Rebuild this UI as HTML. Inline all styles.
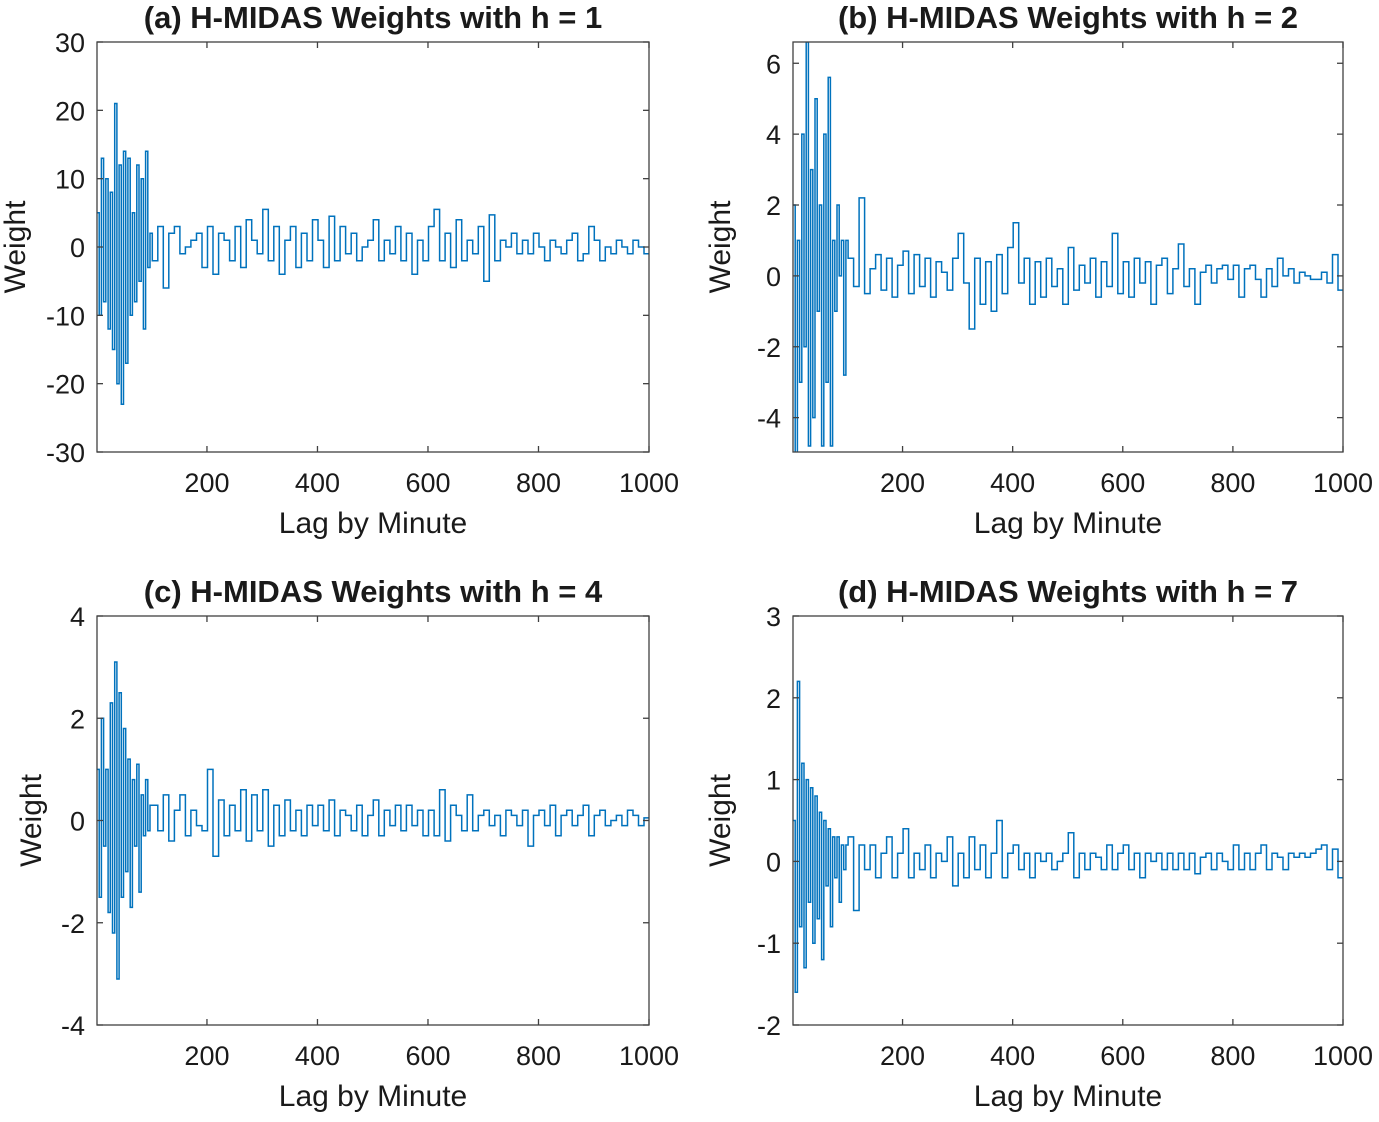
<!DOCTYPE html>
<html><head><meta charset="utf-8"><style>
html,body{margin:0;padding:0;background:#fff;}
svg text{font-family:"Liberation Sans",Arial,sans-serif;fill:#1a1a1a;}
</style></head><body>
<svg id="chart" width="1379" height="1117" viewBox="0 0 1379 1117" xmlns="http://www.w3.org/2000/svg"></svg>
<script>
// step start lags: early fine steps then coarse steps
const lagsEarly = [1,5,9,13,17,21,25,29,33,37,41,45,49,53,57,61,65,69,73,77,81,85,89,93,97];
const lagsLate = [];
for (let k = 0; k < 90; k++) lagsLate.push(101 + 10 * k);
const lags = lagsEarly.concat(lagsLate);

const weightsA = [5,-10,13,-8,10,-12,8,-15,21,-20,12,-23,14,-17,13,-10,5,-8,12,-5,10,-12,14,-3,2,
-2,3,-6,2,3,-1,0,1,2,-3,
3,-4,2,1,-2,3,-3,4,1,-1,
5.5,-2,3,-4,1,3,-3,2,-2,4,
1,-3,4.5,-2,3,-1,2,-2,0,1,
4,-2,1,-1,3,-2,2,-4,1,-2,
3,5.5,-2,2,-3,4,-2,1,-1,3,
-5,4.7,-2,1,0,2,-1,1,-1,2,
0,-2,1,0,-1,1,2,-2,-1,3,
1,-2,0,-1,1,0,-1,1,0,-1];
const weightsB = [2,-5,1,-3,4,-2,6.6,-4.8,3,-4,5,-1,2,-4.8,4,-3,5.6,-4.8,1,-1,2,0,1,-2.8,1,
0.5,-0.3,2.2,-0.5,0.2,0.6,-0.4,0.5,-0.6,0.3,
0.7,-0.5,0.6,-0.3,0.5,-0.6,0.4,0.1,-0.4,0.5,
1.2,-0.2,-1.5,0.5,-0.8,0.4,-1,0.6,-0.5,0.8,
1.5,-0.2,0.5,-0.8,0.4,-0.6,0.5,-0.3,0.2,-0.8,
0.8,-0.4,0.3,-0.2,0.5,-0.6,0.4,-0.3,1.2,-0.5,
0.4,-0.6,0.5,-0.2,0.4,-0.8,0.3,0.5,-0.5,0.2,
0.9,-0.3,0.2,-0.8,0.1,0.3,-0.2,0.2,0.3,-0.1,
0.3,-0.6,0.2,0.3,-0.1,-0.6,0.2,-0.3,0.5,0.0,
0.2,-0.2,0.1,0,-0.1,-0.1,0.1,-0.2,0.6,-0.4];
const weightsC = [1,-1.5,2,-0.5,1,-1.8,2.3,-2.2,3.1,-3.1,2.5,-1.5,1.8,-1,1.2,-1.7,0.8,-0.5,1.1,-1.4,0.5,-0.3,0.8,-0.2,0.3,
0.3,-0.2,0.5,-0.4,0.2,0.5,-0.3,0.2,-0.1,-0.2,
1,-0.7,0.4,-0.3,0.3,-0.2,0.6,-0.4,0.5,-0.2,
0.6,-0.5,0.3,-0.3,0.4,-0.2,0.2,-0.3,0.3,-0.1,
0.3,-0.2,0.4,-0.3,0.2,0.1,-0.2,0.3,-0.3,0.1,
0.4,-0.3,0.2,-0.1,0.3,-0.2,0.3,-0.1,0.2,-0.3,
0.2,-0.3,0.6,-0.4,0.3,0.1,-0.2,0.5,-0.2,0.1,
0.2,-0.1,0.1,-0.3,0.2,0.1,-0.1,0.2,-0.5,0.1,
0.2,-0.1,0.3,-0.3,0.1,0.2,-0.1,0.1,0.3,-0.3,
0.1,0.2,-0.1,0,0.1,-0.1,0.2,0.1,-0.1,0.05];
const weightsD = [0.5,-1.6,2.2,-0.8,1.2,-1.3,1,-0.5,0.9,-1,0.8,-0.7,0.6,-1.2,0.5,-0.3,0.4,-0.8,0.3,-0.2,0.3,-0.5,0.2,-0.1,0.2,
0.3,-0.6,0.2,-0.1,0.2,-0.2,0.1,0.3,-0.2,0.1,
0.4,-0.2,0.1,-0.1,0.2,-0.2,0.1,0,0.3,-0.3,
0.1,-0.2,0.3,-0.1,0.2,-0.2,0.1,0.5,-0.2,0.1,
0.2,-0.1,0.1,-0.2,0.1,0,0.1,-0.1,0,0.1,
0.35,-0.2,0.1,-0.1,0.1,0.05,-0.1,0.2,-0.1,0.1,
0.2,-0.1,0.1,-0.2,0.1,0,0.1,-0.1,0.1,-0.1,
0.1,-0.1,0.1,-0.15,0.05,0.1,-0.1,0.1,0,-0.1,
0.2,-0.1,0.1,-0.1,0.1,0.2,-0.1,0.1,0.05,-0.1,
0.1,0.05,0.1,0.05,0.1,0.15,0.2,-0.1,0.15,-0.2];

const xTicks = [200,400,600,800,1000];
const yTicksA = [-30,-20,-10,0,10,20,30];
const yTicksB = [-4,-2,0,2,4,6];
const yTicksC = [-4,-2,0,2,4];
const yTicksD = [-2,-1,0,1,2,3];
const titles = ["(a) H-MIDAS Weights with h = 1","(b) H-MIDAS Weights with h = 2","(c) H-MIDAS Weights with h = 4","(d) H-MIDAS Weights with h = 7"];

const NS = "http://www.w3.org/2000/svg";
const svg = document.getElementById('chart');
function mk(tag, attrs, parent){const e=document.createElementNS(NS,tag);for(const k in attrs)e.setAttribute(k,attrs[k]);(parent||svg).appendChild(e);return e;}

const panels = [
 {id:'a',l:97,r:649,t:42,b:452,ymin:-30,ymax:30,yt:yTicksA,w:weightsA,title:titles[0]},
 {id:'b',l:793,r:1343,t:42,b:452,ymin:-4.97,ymax:6.6,yt:yTicksB,w:weightsB,title:titles[1]},
 {id:'c',l:97,r:649,t:616,b:1025,ymin:-4,ymax:4,yt:yTicksC,w:weightsC,title:titles[2]},
 {id:'d',l:793,r:1343,t:616,b:1025,ymin:-2,ymax:3,yt:yTicksD,w:weightsD,title:titles[3]}
];

panels.forEach(p=>{
  const g = mk('g',{});
  
  
  const xs = v => p.l + (v - 1) / 999 * (p.r - p.l);
  const ys = v => p.b - (v - p.ymin) / (p.ymax - p.ymin) * (p.b - p.t);
  const cp = mk('clipPath',{id:'clip-'+p.id},g);
  mk('rect',{x:p.l,y:p.t,width:p.r-p.l,height:p.b-p.t},cp);
  let d='';
  for(let i=0;i<lags.length;i++){
    const x0=xs(lags[i]), x1=xs(i+1<lags.length?lags[i+1]:1000), y=ys(p.w[i]);
    d += (i===0?'M':'L')+x0.toFixed(1)+','+y.toFixed(1)+'L'+x1.toFixed(1)+','+y.toFixed(1);
  }
  const path = mk('path',{d:d,fill:'none',stroke:'#0072BD','stroke-width':1.5,'clip-path':'url(#clip-'+p.id+')'},g);
  
  
  const box = mk('rect',{x:p.l,y:p.t,width:p.r-p.l,height:p.b-p.t,fill:'none',stroke:'#404040','stroke-width':1.3},g);
  
  
  xTicks.forEach(v=>{
    const x=xs(v);
    mk('line',{x1:x,x2:x,y1:p.b,y2:p.b-6,stroke:'#404040','stroke-width':1.3},g);
    mk('line',{x1:x,x2:x,y1:p.t,y2:p.t+6,stroke:'#404040','stroke-width':1.3},g);
    const t=mk('text',{x:x,y:p.b+40,'text-anchor':'middle','font-size':27},g);
    t.textContent=v;
    
    
  });
  p.yt.forEach(v=>{
    const y=ys(v);
    mk('line',{x1:p.l,x2:p.l+6,y1:y,y2:y,stroke:'#404040','stroke-width':1.3},g);
    mk('line',{x1:p.r,x2:p.r-6,y1:y,y2:y,stroke:'#404040','stroke-width':1.3},g);
    const t=mk('text',{x:p.l-12,y:y+10,'text-anchor':'end','font-size':27},g);
    t.textContent=v;
    
    
  });
  const cx=(p.l+p.r)/2;
  const xl=mk('text',{x:cx,y:p.b+81,'text-anchor':'middle','font-size':30},g);
  xl.textContent='Lag by Minute';
  
  
  const yx=p.l-(p.id==='a'?72:(p.id==='c'?56:63));
  const yl=mk('text',{x:yx,y:(p.t+p.b)/2,'text-anchor':'middle','font-size':30,transform:'rotate(-90 '+yx+' '+(p.t+p.b)/2+')'},g);
  yl.textContent='Weight';
  
  
  const tt=mk('text',{x:cx,y:p.t-14,'text-anchor':'middle','font-size':31,'font-weight':'bold'},g);
  tt.textContent=p.title;
  
  
});
</script>
</body></html>
